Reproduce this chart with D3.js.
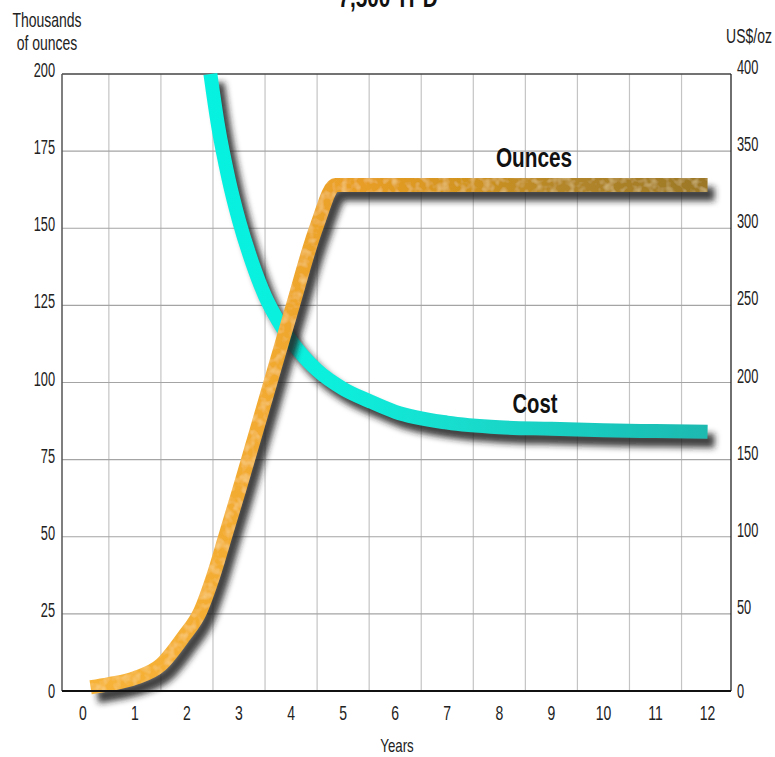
<!DOCTYPE html>
<html>
<head>
<meta charset="utf-8">
<script src="https://cdn.jsdelivr.net/npm/d3@7"></script>
<style>
  html, body { margin: 0; padding: 0; background: #fff; }
  svg { display: block; }
  text { font-family: "Liberation Sans", "Arimo", "Roboto", sans-serif; }
</style>
</head>
<body>
<div id="chart"></div>
<script>
// ---- data ----
const title = "7,500 TPD";
const yearLabels = [0, 1, 2, 3, 4, 5, 6, 7, 8, 9, 10, 11, 12];
const gridYears = [0.5, 1.5, 2.5, 3.5, 4.5, 5.5, 6.5, 7.5, 8.5, 9.5, 10.5, 11.5];
const leftTicks = [0, 25, 50, 75, 100, 125, 150, 175, 200];
const rightTicks = [0, 50, 100, 150, 200, 250, 300, 350, 400];

// Ounces (thousands of oz, left axis)
const ouncesYears  = [0.15, 0.5, 1.0, 1.5, 1.93, 2.26, 2.5, 2.75, 3.0, 3.5, 4.0, 4.5, 4.85, 5.2, 6, 7, 8, 9, 10, 11, 12];
const ouncesValues = [1.2,  2.2, 4.2, 8.5, 17.5, 26,   37,  51,   65,  94,  123, 151, 164,  164, 164, 164, 164, 164, 164, 164, 164];

// Cost (US$/oz, right axis)
const costYears  = [2.45, 2.6, 2.8, 3.0, 3.25, 3.5, 3.75, 4.0, 4.5, 5.0, 5.5, 6.0, 7.0, 8.0, 9.0, 10, 11, 12];
const costValues = [400,  366, 332, 305, 278,  256, 240,  227, 208, 196, 188, 181, 174, 171, 170, 169, 168.5, 168];

// ---- layout ----
const W = 775, H = 757;
const pL = 62, pR = 731, pT = 74, pB = 691;

const svg = d3.select("#chart").append("svg")
  .attr("width", W).attr("height", H);

const x = d3.scaleLinear().domain([-0.4, 12.45]).range([pL, pR]);
const yL = d3.scaleLinear().domain([0, 200]).range([pB, pT]);
const yR = d3.scaleLinear().domain([0, 400]).range([pB, pT]);

const defs = svg.append("defs");
const shadow = defs.append("filter").attr("id", "shadow")
  .attr("x", "-20%").attr("y", "-20%").attr("width", "140%").attr("height", "140%");
shadow.append("feGaussianBlur").attr("stdDeviation", 3.4);

// subtle mottled texture for the gold band
const mottle = defs.append("filter").attr("id", "mottle")
  .attr("x", "-5%").attr("y", "-5%").attr("width", "110%").attr("height", "110%");
mottle.append("feTurbulence").attr("type", "fractalNoise").attr("baseFrequency", 0.12)
  .attr("numOctaves", 2).attr("seed", 4).attr("result", "noise");
mottle.append("feColorMatrix").attr("in", "noise").attr("type", "matrix")
  .attr("values", "0 0 0 0 1  0 0 0 0 0.85  0 0 0 0 0.45  0 0 0 -0.9 0.5")
  .attr("result", "spots");
mottle.append("feComposite").attr("in", "spots").attr("in2", "SourceGraphic")
  .attr("operator", "in").attr("result", "clipped");
const mm = mottle.append("feMerge");
mm.append("feMergeNode").attr("in", "SourceGraphic");
mm.append("feMergeNode").attr("in", "clipped");

const gold = defs.append("linearGradient").attr("id", "gold")
  .attr("gradientUnits", "userSpaceOnUse")
  .attr("x1", pL).attr("x2", pR).attr("y1", 0).attr("y2", 0);
[[0, "#f8b53a"], [0.3, "#f2aa30"], [0.45, "#e89e26"], [0.6, "#d2941f"], [0.75, "#b3862a"], [1, "#987524"]]
  .forEach(([o, c]) => gold.append("stop").attr("offset", o).attr("stop-color", c));

const cyan = defs.append("linearGradient").attr("id", "cyan")
  .attr("gradientUnits", "userSpaceOnUse")
  .attr("x1", pL).attr("x2", pR).attr("y1", 0).attr("y2", 0);
[[0, "#00f4e4"], [0.4, "#0cefdd"], [0.6, "#18dccd"], [0.85, "#19c4b9"], [1, "#1fb6ad"]]
  .forEach(([o, c]) => cyan.append("stop").attr("offset", o).attr("stop-color", c));

// ---- grid ----
svg.append("g").selectAll("line").data(gridYears).join("line")
  .attr("x1", d => x(d)).attr("x2", d => x(d))
  .attr("y1", pT).attr("y2", pB)
  .attr("stroke", "#c4c4c4").attr("stroke-width", 1.2);

svg.append("g").selectAll("line").data(leftTicks.filter(d => d > 0 && d < 200)).join("line")
  .attr("x1", pL).attr("x2", pR)
  .attr("y1", d => yL(d)).attr("y2", d => yL(d))
  .attr("stroke", "#a4a4a4").attr("stroke-width", 1.2);

// frame
svg.append("line").attr("x1", pL).attr("x2", pR).attr("y1", pT).attr("y2", pT)
  .attr("stroke", "#444").attr("stroke-width", 1.3);
svg.append("line").attr("x1", pL).attr("x2", pL).attr("y1", pT).attr("y2", pB)
  .attr("stroke", "#555").attr("stroke-width", 1.5);
svg.append("line").attr("x1", pR).attr("x2", pR).attr("y1", pT).attr("y2", pB)
  .attr("stroke", "#222").attr("stroke-width", 1.3);

// ---- curves ----
const ouncesData = ouncesYears.map((d, i) => [d, ouncesValues[i]]);
const costData = costYears.map((d, i) => [d, costValues[i]]);

const lineO = d3.line().x(d => x(d[0])).y(d => yL(d[1])).curve(d3.curveMonotoneX);
const lineC = d3.line().x(d => x(d[0])).y(d => yR(d[1])).curve(d3.curveMonotoneX);

const bandW = 14;
svg.append("path").attr("d", lineC(costData))
  .attr("fill", "none").attr("stroke", "#222").attr("stroke-opacity", 0.85)
  .attr("stroke-width", bandW).attr("transform", "translate(7,9)")
  .attr("filter", "url(#shadow)");
svg.append("path").attr("d", lineC(costData))
  .attr("fill", "none").attr("stroke", "url(#cyan)").attr("stroke-width", bandW);

svg.append("path").attr("d", lineO(ouncesData))
  .attr("fill", "none").attr("stroke", "#222").attr("stroke-opacity", 0.85)
  .attr("stroke-width", bandW).attr("transform", "translate(7,9)")
  .attr("filter", "url(#shadow)");
svg.append("g").attr("filter", "url(#mottle)")
  .append("path").attr("d", lineO(ouncesData))
  .attr("fill", "none").attr("stroke", "url(#gold)").attr("stroke-width", bandW);

// bottom axis line
svg.append("line").attr("x1", pL).attr("x2", pR).attr("y1", pB).attr("y2", pB)
  .attr("stroke", "#111").attr("stroke-width", 2);

// ---- text helper (condensed look via horizontal scale) ----
function label(g, tx, ty, str, opts) {
  const o = Object.assign({ size: 20, sx: 0.7, anchor: "middle", weight: "normal", fill: "#222" }, opts || {});
  return g.append("text")
    .attr("transform", `translate(${tx},${ty}) scale(${o.sx},1)`)
    .attr("text-anchor", o.anchor)
    .attr("font-size", o.size).attr("font-weight", o.weight).attr("fill", o.fill)
    .text(str);
}

const xt = svg.append("g");
yearLabels.forEach(d => label(xt, x(d), 720, d, { sx: 0.7 }));

const lt = svg.append("g");
leftTicks.forEach(d => label(lt, 55, d === 0 ? yL(d) + 7 : yL(d) + 3, d, { anchor: "end", sx: 0.64 }));

const rt = svg.append("g");
rightTicks.forEach(d => label(rt, 737, d === 0 ? yR(d) + 7 : yR(d), d, { anchor: "start", sx: 0.64 }));

label(svg, 47, 27, "Thousands", { sx: 0.7 });
label(svg, 47, 50, "of ounces", { sx: 0.7 });
label(svg, 749, 43, "US$/oz", { sx: 0.7 });
label(svg, 397, 752, "Years", { sx: 0.7, size: 19 });

label(svg, 388, 7, title, { size: 27, weight: "bold", sx: 0.77, fill: "#111" });
label(svg, 534, 167, "Ounces", { size: 27, weight: "bold", sx: 0.77, fill: "#111" });
label(svg, 535, 413, "Cost", { size: 27, weight: "bold", sx: 0.75, fill: "#111" });
</script>
</body>
</html>
